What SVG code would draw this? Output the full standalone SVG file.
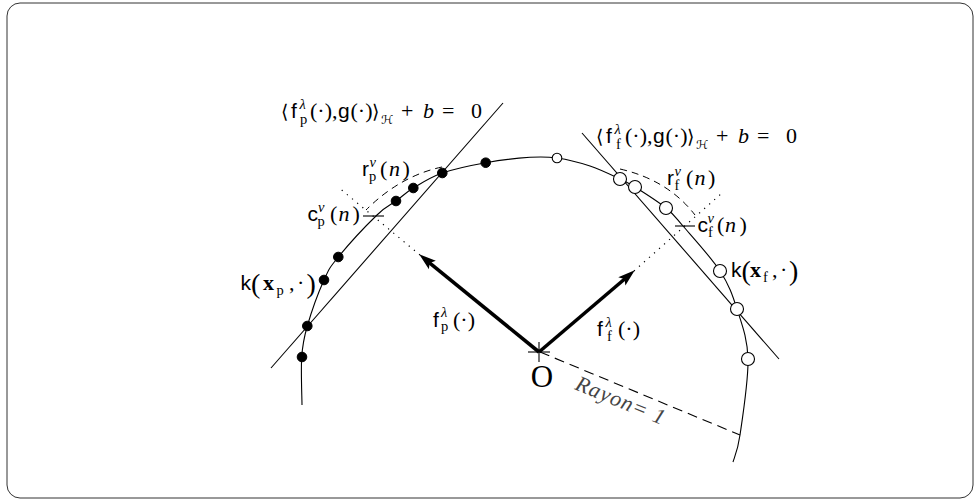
<svg xmlns="http://www.w3.org/2000/svg" width="980" height="504" viewBox="0 0 980 504">
<defs>
<style>
.ln{fill:none;stroke:#000;stroke-width:1.1}
.dash{fill:none;stroke:#000;stroke-width:1;stroke-dasharray:7 5}
.dot{fill:none;stroke:#000;stroke-width:1.2;stroke-dasharray:1.2 5.5}
.arr{fill:none;stroke:#000;stroke-width:3.6}
.pf{fill:#000;stroke:#000;stroke-width:1}
.po{fill:#fff;stroke:#000;stroke-width:1.1}
text{font-family:'Liberation Serif','Times New Roman',serif;font-size:22px;fill:#000}
tspan.s{font-family:'Liberation Sans',Arial,sans-serif;font-size:21px}
tspan.sc{font-size:14.5px}
tspan.i{font-style:italic}
tspan.b{font-weight:bold}
tspan.br{font-family:'DejaVu Serif','DejaVu Sans',serif;font-size:19px}
tspan.h{font-family:'DejaVu Serif','DejaVu Sans',serif;font-size:12.5px;font-style:italic}
tspan.big{font-size:28px}
</style>
<marker id="ah" markerUnits="userSpaceOnUse" markerWidth="30" markerHeight="20" viewBox="-10 -10 30 20" refX="0" refY="0" orient="auto">
<path d="M11,0 L-6,-5.5 L-2.5,0 L-6,5.5 Z" fill="#000"/>
</marker>
</defs>
<rect id="frame" x="7" y="3" width="966" height="495" rx="13" ry="13" fill="#fff" stroke="#333" stroke-width="1"/>

<g id="sphere">
<path class="ln" d="M302,405 C301.95,397 300.82,370.17 301.7,357 C302.58,343.83 303.58,338.83 307.3,326 C311.02,313.17 318.83,291.5 324,280 C329.17,268.5 329.47,267.83 338.3,257 C347.13,246.17 367.38,224.33 377,215 C386.62,205.67 389.95,205.5 396,201 C402.05,196.5 405.58,192.67 413.3,188 C421.02,183.33 430.23,177.22 442.3,173 C454.37,168.78 471.08,165.32 485.7,162.7 C500.32,160.08 518.12,158.08 530,157.3 C541.88,156.52 547,156.55 557,158 C567,159.45 579.5,162.5 590,166 C600.5,169.5 612.5,175.5 620,179 C627.5,182.5 627.33,182.17 635,187 C642.67,191.83 658,201.5 666,208 C674,214.5 674,215.5 683,226 C692,236.5 711,257.17 720,271 C729,284.83 732.33,294.33 737,309 C741.67,323.67 747.5,338 748,359 C748.5,380 742.5,417.83 740,435 C737.5,452.17 734.17,457.5 733,462"/>
</g>

<g id="connectors">
<line id="hyper-p" class="ln" x1="503" y1="103" x2="271" y2="368"/>
<line id="hyper-f" class="ln" x1="582" y1="133" x2="779" y2="359"/>
<path id="arc-rp" class="dash" d="M442,167 Q400,176 366,210"/>
<path id="arc-rf" class="dash" d="M620,169 Q668,180 695,215"/>
<line class="dot" x1="420" y1="255" x2="338" y2="187"/>
<line class="dot" x1="634" y1="271" x2="722" y2="193"/>
<line class="ln" x1="363" y1="216" x2="384" y2="216"/>
<line class="ln" x1="675" y1="226" x2="695" y2="226"/>
<line id="rayon" class="ln" x1="540" y1="352" x2="740" y2="435" stroke-dasharray="10 6"/>
<line id="arrow-fp" class="arr" x1="539" y1="352" x2="427.7" y2="261.3" marker-end="url(#ah)"/>
<line id="arrow-ff" class="arr" x1="539" y1="352" x2="626.4" y2="277.5" marker-end="url(#ah)"/>
<line class="ln" x1="528" y1="352" x2="550" y2="352"/>
<line class="ln" x1="539" y1="342" x2="539" y2="362"/>
</g>

<g id="points-p">
<circle class="pf" cx="302" cy="357" r="4.8"/>
<circle class="pf" cx="307.3" cy="326" r="4.8"/>
<circle class="pf" cx="324" cy="280" r="4.8"/>
<circle class="pf" cx="338.3" cy="257" r="4.8"/>
<circle class="pf" cx="396" cy="201" r="4.8"/>
<circle class="pf" cx="413.3" cy="188" r="4.8"/>
<circle class="pf" cx="442.3" cy="173" r="4.8"/>
<circle class="pf" cx="485.7" cy="162.7" r="4.8"/>
</g>
<g id="points-f">
<circle class="po" cx="557" cy="158" r="4.8"/>
<circle class="po" cx="620" cy="179" r="6.5"/>
<circle class="po" cx="635" cy="187" r="6.5"/>
<circle class="po" cx="666" cy="208" r="6.5"/>
<circle class="po" cx="720" cy="271" r="6.5"/>
<circle class="po" cx="737" cy="309" r="6.5"/>
<circle class="po" cx="748" cy="359" r="6.5"/>
</g>

<g id="label-hyper-p">
<text><tspan class="br" x="281" y="118">⟨</tspan><tspan class="s" x="291" y="118">f</tspan><tspan class="sc i" x="299.5" y="109">λ</tspan><tspan class="sc" x="300" y="124">p</tspan><tspan x="310" y="118">(·),</tspan><tspan class="s" x="338" y="118">g</tspan><tspan x="350.5" y="118">(·)</tspan><tspan class="br" x="372" y="118">⟩</tspan><tspan class="h" x="381" y="124">ℋ</tspan><tspan x="401" y="118">+</tspan><tspan class="i" x="423" y="118">b</tspan><tspan x="442" y="118">=</tspan><tspan x="471" y="118">0</tspan></text>
</g>
<g id="label-hyper-f">
<text><tspan class="br" x="596" y="143">⟨</tspan><tspan class="s" x="606" y="143">f</tspan><tspan class="sc i" x="614.5" y="134">λ</tspan><tspan class="sc" x="616" y="149">f</tspan><tspan x="625" y="143">(·),</tspan><tspan class="s" x="653" y="143">g</tspan><tspan x="665.5" y="143">(·)</tspan><tspan class="br" x="687" y="143">⟩</tspan><tspan class="h" x="696" y="149">ℋ</tspan><tspan x="716" y="143">+</tspan><tspan class="i" x="738" y="143">b</tspan><tspan x="757" y="143">=</tspan><tspan x="786" y="143">0</tspan></text>
</g>
<g id="label-rp">
<text><tspan class="s" x="362" y="176">r</tspan><tspan class="sc i" x="369.5" y="167">ν</tspan><tspan class="sc" x="369" y="181">p</tspan><tspan x="380" y="176">(</tspan><tspan class="i" x="389" y="176">n</tspan><tspan x="402.5" y="176">)</tspan></text>
</g>
<g id="label-cp">
<text><tspan class="s" x="307.5" y="221">c</tspan><tspan class="sc i" x="318" y="212">ν</tspan><tspan class="sc" x="317.5" y="226">p</tspan><tspan x="330" y="221">(</tspan><tspan class="i" x="338.5" y="221">n</tspan><tspan x="352.5" y="221">)</tspan></text>
</g>
<g id="label-kp">
<text><tspan class="s" x="240.5" y="290">k</tspan><tspan class="big" x="251" y="293">(</tspan><tspan class="b" x="263" y="290">x</tspan><tspan class="sc" x="276.5" y="295">p</tspan><tspan x="289" y="290">,</tspan><tspan x="297" y="290">·</tspan><tspan class="big" x="306.5" y="293">)</tspan></text>
</g>
<g id="label-rf">
<text><tspan class="s" x="667" y="185">r</tspan><tspan class="sc i" x="674.5" y="176">ν</tspan><tspan class="sc" x="674.5" y="190">f</tspan><tspan x="686" y="185">(</tspan><tspan class="i" x="694.5" y="185">n</tspan><tspan x="708" y="185">)</tspan></text>
</g>
<g id="label-cf">
<text><tspan class="s" x="697.5" y="232">c</tspan><tspan class="sc i" x="707.5" y="223">ν</tspan><tspan class="sc" x="708" y="237">f</tspan><tspan x="717" y="232">(</tspan><tspan class="i" x="725" y="232">n</tspan><tspan x="739.5" y="232">)</tspan></text>
</g>
<g id="label-kf">
<text><tspan class="s" x="731" y="277">k</tspan><tspan class="big" x="741.5" y="280">(</tspan><tspan class="b" x="750" y="277">x</tspan><tspan class="sc" x="763" y="282">f</tspan><tspan x="772" y="277">,</tspan><tspan x="780" y="277">·</tspan><tspan class="big" x="789" y="280">)</tspan></text>
</g>
<g id="label-fp">
<text><tspan class="s" x="433" y="327">f</tspan><tspan class="sc i" x="441" y="317">λ</tspan><tspan class="sc" x="441" y="331">p</tspan><tspan x="453" y="327">(·)</tspan></text>
</g>
<g id="label-ff">
<text><tspan class="s" x="597" y="336">f</tspan><tspan class="sc i" x="605.5" y="327">λ</tspan><tspan class="sc" x="607" y="341">f</tspan><tspan x="618" y="336">(·)</tspan></text>
</g>
<g id="label-O">
<text x="542" y="387" text-anchor="middle" style="font-size:31px">O</text>
</g>
<g id="label-rayon">
<text x="574" y="389" transform="rotate(22.4 574 389)" style="font-style:italic;font-size:22px;fill:#444;letter-spacing:1px">Rayon= 1</text>
</g>
</svg>
